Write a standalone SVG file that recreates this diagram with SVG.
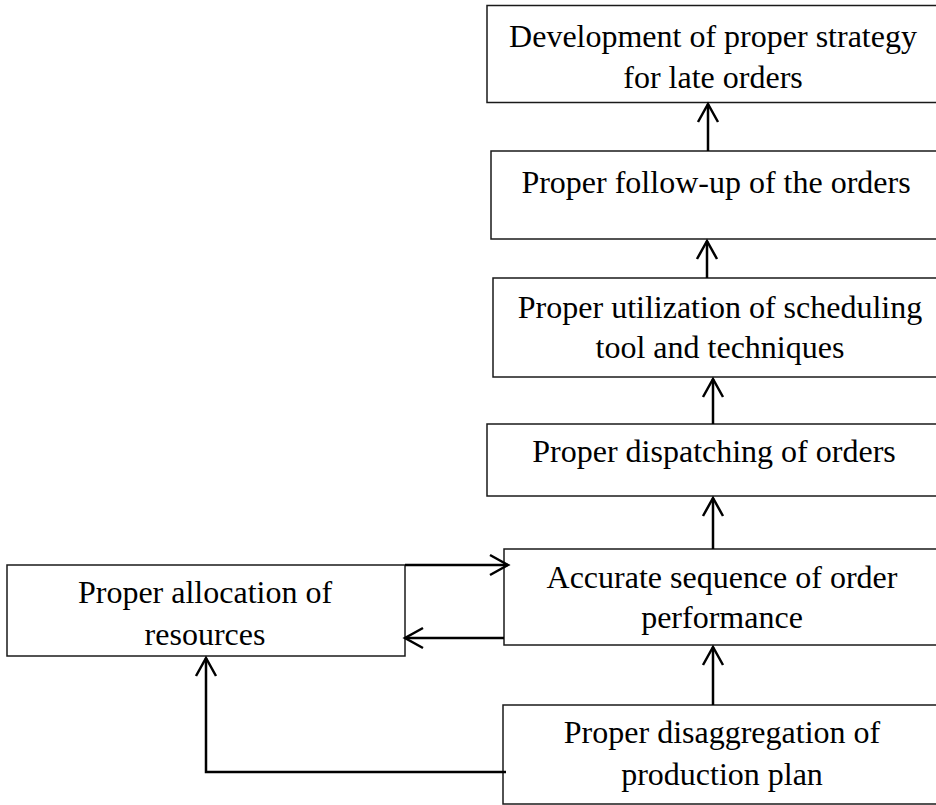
<svg xmlns="http://www.w3.org/2000/svg" width="936" height="805" viewBox="0 0 936 805">
<style>
.box{fill:#fff;stroke:#1a1a1a;stroke-width:1.5}
.t{font-family:"Liberation Serif","Times New Roman",serif;font-size:32px;fill:#000;text-anchor:middle}
.c{fill:none;stroke:#000;stroke-width:2.5}
</style>
<defs>
<marker id="ah" markerUnits="userSpaceOnUse" markerWidth="26" markerHeight="26" viewBox="-21 -13 26 26" refX="0" refY="0" orient="auto">
<path d="M-18,-10 L0,0 L-18,10" fill="none" stroke="#000" stroke-width="2.5"/>
</marker>
</defs>
<rect width="936" height="805" fill="#fff"/>
<g id="n1"><rect class="box" x="487" y="5.5" width="460" height="97"/><text class="t" x="713" y="47">Development of proper strategy</text><text class="t" x="713" y="88">for late orders</text></g>
<g id="n2"><rect class="box" x="491" y="151" width="460" height="88"/><text class="t" x="716" y="193">Proper follow-up of the orders</text></g>
<g id="n3"><rect class="box" x="493" y="278" width="460" height="99"/><text class="t" x="720" y="318">Proper utilization of scheduling</text><text class="t" x="720" y="358">tool and techniques</text></g>
<g id="n4"><rect class="box" x="487" y="424" width="460" height="72"/><text class="t" x="714" y="462">Proper dispatching of orders</text></g>
<g id="n5"><rect class="box" x="504" y="549" width="460" height="96"/><text class="t" x="722" y="588">Accurate sequence of order</text><text class="t" x="722" y="628">performance</text></g>
<g id="n6"><rect class="box" x="7" y="565" width="398" height="91"/><text class="t" x="205" y="603">Proper allocation of</text><text class="t" x="205" y="645">resources</text></g>
<g id="n7"><rect class="box" x="503" y="705" width="460" height="99"/><text class="t" x="722" y="743">Proper disaggregation of</text><text class="t" x="722" y="785">production plan</text></g>
<g id="connectors">
<path class="c" d="M708,151 V104" marker-end="url(#ah)"/>
<path class="c" d="M707,278 V241" marker-end="url(#ah)"/>
<path class="c" d="M713,424 V379" marker-end="url(#ah)"/>
<path class="c" d="M713,549 V498" marker-end="url(#ah)"/>
<path class="c" d="M713,705 V647" marker-end="url(#ah)"/>
<path class="c" d="M405,565 H508" marker-end="url(#ah)"/>
<path class="c" d="M504,638 H405" marker-end="url(#ah)"/>
<path class="c" d="M506,772 H206 V658" marker-end="url(#ah)"/>
</g>
</svg>
